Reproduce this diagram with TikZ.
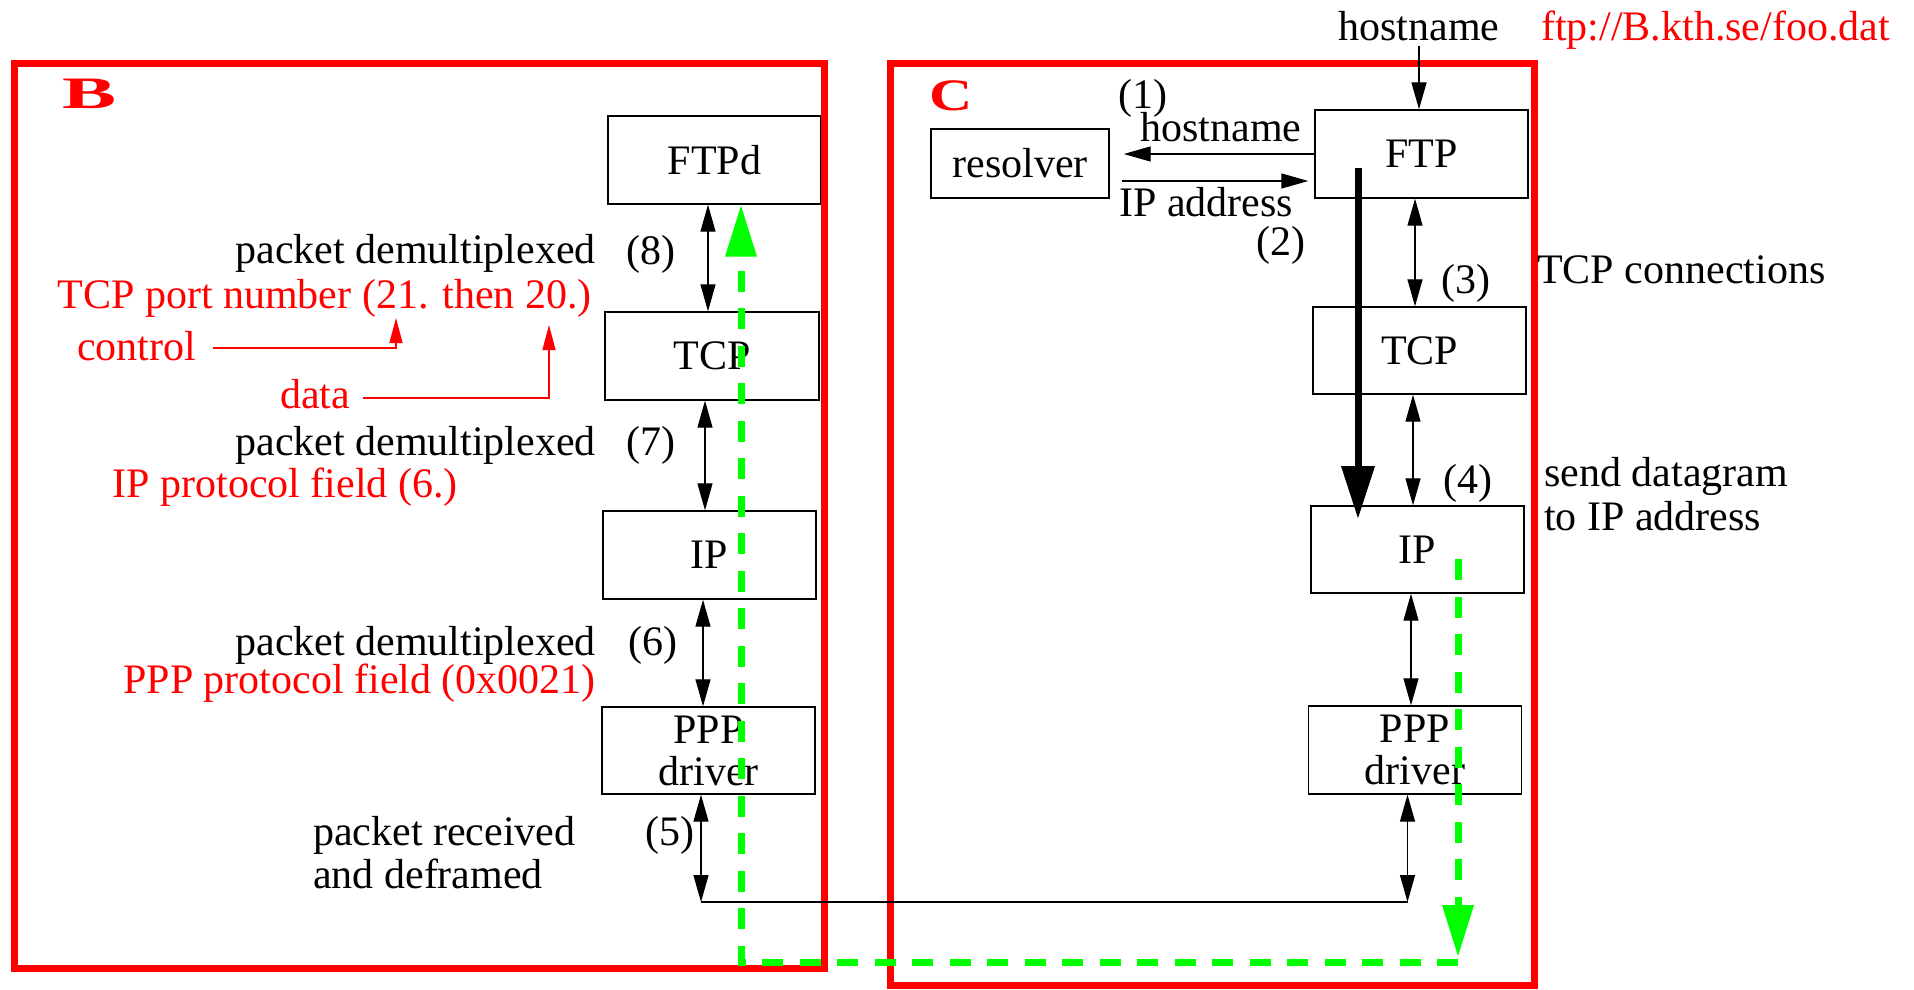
\documentclass[tikz,border=0pt]{standalone}
\usepackage{fontspec}
\setmainfont{Liberation Serif}
\usetikzlibrary{arrows.meta,calc}
\definecolor{brightgreen}{RGB}{0,255,0}
\begin{document}
\begin{tikzpicture}[x=1pt,y=-1pt,
  txt/.style={font=\fontsize{42}{42}\selectfont, inner sep=0pt},
  redtxt/.style={txt, text=red},
  box/.style={draw, line width=1.4pt, inner sep=0pt, minimum width=213pt, minimum height=88pt, txt, align=center},
  arr/.style={line width=1.3pt, -{Triangle[length=27pt,width=15pt]}},
  darr/.style={line width=1.3pt, {Triangle[length=27pt,width=15pt]}-{Triangle[length=27pt,width=15pt]}},
  redarr/.style={draw=red, line width=1.3pt, -{Triangle[length=25pt,width=13pt]}, color=red},
  frame/.style={draw=red, line width=7pt},
  gdash/.style={draw=brightgreen, color=brightgreen, line width=7pt, dash pattern=on 21pt off 16.5pt},
  thick arrow/.style={line width=7pt, -{Triangle[length=53pt,width=32pt]}},
  lab/.style={text=red, inner sep=0pt, font=\fontsize{45}{45}\selectfont\bfseries}
]
\useasboundingbox (0,0) rectangle (1914,989);

% boxes
\node[box] (FTPd) at (714.5,160) {FTPd};
\node[box, minimum width=214pt] (TCPb) at (712,356) {TCP};
\node[box] (IPb) at (709.5,555) {IP};
\node[box, minimum height=87pt] (PPPb) at (708.5,750.5) {PPP\\driver};
\node[box, minimum width=178pt, minimum height=69pt] (resolver) at (1020,163.5) {resolver};
\node[box] (FTP) at (1421.5,154) {FTP};
\node[box, minimum height=87pt] (TCPc) at (1419.5,350.5) {TCP};
\node[box, minimum height=87pt] (IPc) at (1417.5,549.5) {IP};
\node[box] (PPPc) at (1415,750) {PPP\\driver};

% frames
\draw[frame] (14,63) rectangle (824,968);
\draw[frame] (890,63) rectangle (1534,985);
\node[lab, anchor=base, xscale=1.8] (labB) at (90,108) {B};
\node[lab, anchor=base, xscale=1.33] (labC) at (951,110) {C};

% texts C side
\node[txt, anchor=base] (hosttop) at (1419,40) {hostname};
\node[redtxt, anchor=base west] (url) at (1541,40) {ftp://B.kth.se/foo.dat};
\node[txt, anchor=base] (n1) at (1143,108) {(1)};
\node[txt, anchor=base] (hostmid) at (1221,141) {hostname};
\node[txt, anchor=base west] (ipaddr) at (1119,216) {IP address};
\node[txt, anchor=base] (n2) at (1281,255) {(2)};
\node[txt, anchor=base] (n3) at (1466,293) {(3)};
\node[txt, anchor=base west] (tcpconn) at (1537,283) {TCP connections};
\node[txt, anchor=base] (n4) at (1468,493) {(4)};
\node[txt, anchor=base west] (send1) at (1544,486) {send datagram};
\node[txt, anchor=base west] (send2) at (1544,530) {to IP address};

% texts B side
\node[txt, anchor=base east] (pd8) at (596,263) {packet demultiplexed};
\node[txt, anchor=base] (n8) at (651,264) {(8)};
\node[redtxt, anchor=base east] (port) at (592,308) {TCP port number (21. then 20.)};
\node[redtxt, anchor=base west] (control) at (77,360) {control};
\node[redtxt, anchor=base west] (data) at (280,408) {data};
\node[txt, anchor=base east] (pd7) at (596,455) {packet demultiplexed};
\node[txt, anchor=base] (n7) at (651,455) {(7)};
\node[redtxt, anchor=base east] (ipproto) at (458,497) {IP protocol field (6.)};
\node[txt, anchor=base east] (pd6) at (596,655) {packet demultiplexed};
\node[txt, anchor=base] (n6) at (653,655) {(6)};
\node[redtxt, anchor=base east] (pppproto) at (596,693) {PPP protocol field (0x0021)};
\node[txt, anchor=base west] (recv1) at (313,845) {packet received};
\node[txt, anchor=base west] (recv2) at (313,888) {and deframed};
\node[txt, anchor=base] (n5) at (670,845) {(5)};

% connectors B
\draw[darr] ([xshift=-6.5pt]FTPd.south) -- ([xshift=-4pt]TCPb.north);
\draw[darr] ([xshift=-7pt]TCPb.south) -- ([xshift=-4.5pt]IPb.north);
\draw[darr] ([xshift=-6.5pt]IPb.south) -- ([xshift=-5.5pt]PPPb.north);
\coordinate (bl) at (701,902);
\coordinate (br) at (1407.5,902);
\draw[darr] ([xshift=-7.5pt]PPPb.south) -- (bl);
\draw[line width=1.3pt] (bl) -- (br);
\draw[darr] ([xshift=-7.5pt]PPPc.south) -- (br);

% connectors C
\draw[arr, shorten <=5pt] (hosttop.south) -- ([xshift=-2.5pt]FTP.north);
\draw[arr] (FTP.west) -- ($(resolver.east |- FTP.west)+(14,0)$);
\draw[arr] ($(resolver.east)+(12,17.5)$) -- ($(FTP.west)+(-6,27)$);
\draw[darr] ([xshift=-6.5pt]FTP.south) -- ([xshift=-4.5pt]TCPc.north);
\draw[darr] ([xshift=-6.5pt]TCPc.south) -- ([xshift=-4.5pt]IPc.north);
\draw[darr] ([xshift=-6.5pt]IPc.south) -- ([xshift=-4pt]PPPc.north);
\draw[thick arrow] ($(FTP.center)+(-63.5,14)$) -- ($(IPc.center)+(-59.5,-30.5)$);

% red arrows
\coordinate (ctip) at (396,318);
\coordinate (dtip) at (549,325);
\draw[redarr] ($(control.east)+(17,2.5)$) -| (ctip);
\draw[redarr] ($(data.east)+(13,4.5)$) -| (dtip);

% green path
\coordinate (g1) at (1458,559);
\coordinate (g2) at (1458,957);
\coordinate (g3) at (1458,962);
\coordinate (g4) at (741,962);
\draw[gdash, -{Triangle[length=52pt,width=30pt]}] (g1) -- (g2);
\draw[gdash, -{Triangle[length=52pt,width=30pt]}] (g3) -- (g4) -- ([xshift=26.5pt]FTPd.south);
\end{tikzpicture}
\end{document}
